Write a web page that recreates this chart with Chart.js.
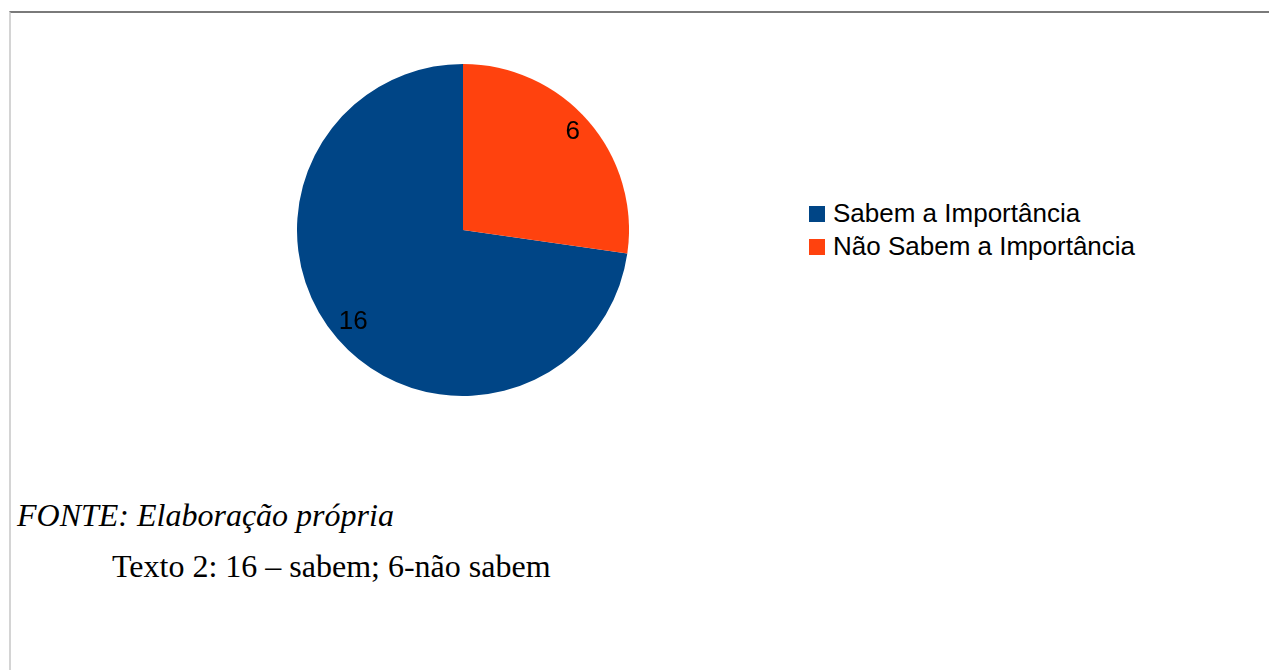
<!DOCTYPE html>
<html lang="pt">
<head>
<meta charset="utf-8">
<title>Sabem a Importância</title>
<script src="https://cdn.jsdelivr.net/npm/chart.js@4/dist/chart.umd.min.js"></script>
<style>
  html, body { margin: 0; padding: 0; background: #fff; }
  body { width: 1269px; height: 670px; position: relative; overflow: hidden; }
  .page {
    position: absolute; left: 9px; top: 11px; right: 0; bottom: 0;
    border-top: 2px solid #7a7a7a;
    border-left: 2px solid #d4d4d4;
  }
  #pieWrap { position: absolute; left: 297px; top: 64px; width: 332px; height: 332px; }
  .legend {
    position: absolute; left: 809px; top: 197px;
    font-family: "Liberation Sans", Arial, sans-serif; font-size: 26px; color: #000;
  }
  .legend-item { display: flex; align-items: center; height: 33px; white-space: nowrap; }
  .legend-box { width: 16px; height: 16px; margin-right: 8px; flex: none; }
  .fonte {
    position: absolute; left: 17px; top: 495px;
    font-family: "Liberation Serif", "Times New Roman", serif; font-style: italic;
    font-size: 32px; line-height: 40px; white-space: nowrap;
  }
  .texto {
    position: absolute; left: 112px; top: 546px;
    font-family: "Liberation Serif", "Times New Roman", serif;
    font-size: 32px; line-height: 40px; white-space: nowrap;
  }
</style>
</head>
<body>
<div class="page"></div>
<div id="pieWrap"><canvas id="chartPie"></canvas></div>
<div class="legend" id="legend"></div>
<div class="fonte">FONTE: Elaboração própria</div>
<div class="texto">Texto 2: 16 – sabem; 6-não sabem</div>

<script>
  const LABELS = ['Sabem a Importância', 'Não Sabem a Importância'];
  const VALUES = [16, 6];
  const COLORS = ['#004586', '#ff420e'];

  const total = VALUES.reduce((a, b) => a + b, 0);

  // valores dentro das fatias, perto da borda (como no LibreOffice)
  const sliceValues = {
    id: 'sliceValues',
    afterDatasetsDraw(chart) {
      const ctx = chart.ctx;
      const meta = chart.getDatasetMeta(0);
      ctx.save();
      ctx.font = '26px "Liberation Sans", Arial, sans-serif';
      ctx.fillStyle = '#000';
      ctx.textAlign = 'center';
      ctx.textBaseline = 'middle';
      meta.data.forEach((arc, i) => {
        const mid = (arc.startAngle + arc.endAngle) / 2;
        const r = arc.outerRadius * 0.875;
        ctx.fillText(String(VALUES[i]), arc.x + Math.cos(mid) * r, arc.y + Math.sin(mid) * r - 3);
      });
      ctx.restore();
    }
  };

  new Chart(document.getElementById('chartPie'), {
    type: 'pie',
    data: {
      labels: LABELS,
      datasets: [{
        data: VALUES,
        backgroundColor: COLORS,
        borderWidth: 0
      }]
    },
    options: {
      responsive: true,
      maintainAspectRatio: false,
      animation: false,
      rotation: 360 * VALUES[1] / total,
      layout: { padding: 0 },
      plugins: {
        legend: { display: false },
        tooltip: { enabled: false }
      }
    },
    plugins: [sliceValues]
  });

  const legend = document.getElementById('legend');
  LABELS.forEach((label, i) => {
    const item = document.createElement('div');
    item.className = 'legend-item';
    const box = document.createElement('span');
    box.className = 'legend-box';
    box.style.background = COLORS[i];
    const text = document.createElement('span');
    text.textContent = label;
    item.appendChild(box);
    item.appendChild(text);
    legend.appendChild(item);
  });
</script>
</body>
</html>
